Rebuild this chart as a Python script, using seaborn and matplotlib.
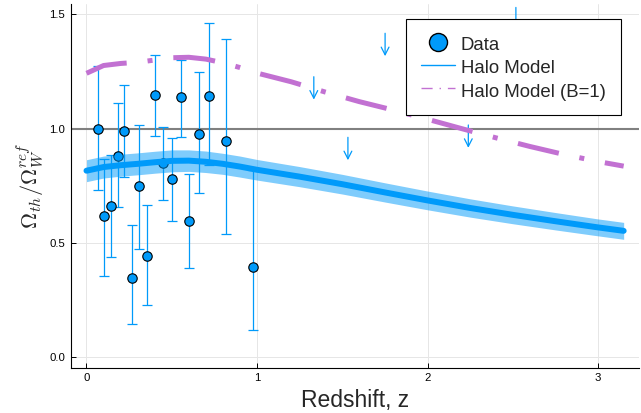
import numpy as np
import pandas as pd
import matplotlib
matplotlib.use("Agg")
import matplotlib.pyplot as plt
import seaborn as sns
from matplotlib.lines import Line2D
from matplotlib.patches import FancyArrowPatch

# ---- data ----
z_data = [0.069, 0.104, 0.142, 0.183, 0.221, 0.265, 0.308, 0.354, 0.401,
          0.448, 0.499, 0.552, 0.602, 0.661, 0.718, 0.821, 0.974]
y_data = [1.000, 0.616, 0.661, 0.879, 0.990, 0.346, 0.747, 0.441, 1.148,
          0.849, 0.780, 1.137, 0.595, 0.976, 1.144, 0.945, 0.397]
y_hi = [1.274, 0.865, 0.886, 1.110, 1.190, 0.579, 1.016, 0.664, 1.323,
        1.008, 0.960, 1.300, 0.800, 1.249, 1.461, 1.391, 0.820]
y_lo = [0.731, 0.355, 0.437, 0.659, 0.787, 0.144, 0.472, 0.227, 0.966,
        0.686, 0.598, 0.965, 0.392, 0.719, 0.840, 0.540, 0.119]

# upper limits (arrows)
ul_z = [1.333, 1.533, 1.751, 2.239, 2.518]
ul_y = [1.227, 0.962, 1.417, 1.016, 1.530]

# halo model with ribbon
model_z = [0.0, 0.1, 0.2, 0.3, 0.4, 0.5, 0.6, 0.7, 0.8, 0.9, 1.0, 1.25, 1.5,
           1.75, 2.0, 2.25, 2.5, 2.75, 3.0, 3.15]
model_y = [0.816, 0.832, 0.840, 0.846, 0.853, 0.859, 0.860, 0.855, 0.846,
           0.834, 0.820, 0.790, 0.757, 0.721, 0.686, 0.653, 0.623, 0.595,
           0.568, 0.553]
model_err = [0.048, 0.048, 0.048, 0.048, 0.048, 0.048, 0.047, 0.047, 0.046,
             0.046, 0.045, 0.044, 0.043, 0.042, 0.041, 0.040, 0.039, 0.038,
             0.037, 0.037]

# halo model, B=1
b1_z = [0.0, 0.1, 0.2, 0.3, 0.4, 0.5, 0.6, 0.7, 0.8, 0.9, 1.0, 1.2, 1.4,
        1.6, 1.8, 2.0, 2.2, 2.4, 2.6, 2.8, 3.0, 3.15]
b1_y = [1.242, 1.276, 1.285, 1.290, 1.300, 1.310, 1.312, 1.304, 1.288,
        1.267, 1.243, 1.205, 1.160, 1.118, 1.081, 1.041, 1.000, 0.960,
        0.922, 0.887, 0.856, 0.836]

x_ticks = [0, 1, 2, 3]
y_ticks = [0.0, 0.5, 1.0, 1.5]
y_tick_labels = ["0.0", "0.5", "1.0", "1.5"]

BLUE = "#009AFA"
PURPLE = "#C271D2"

sns.set_theme(style="white")
plt.rcParams["font.family"] = ["Liberation Sans", "DejaVu Sans"]
plt.rcParams["mathtext.fontset"] = "cm"

fig, ax = plt.subplots(figsize=(6.41, 4.13), dpi=100)
fig.subplots_adjust(left=0.1103, right=0.9969, bottom=0.1097, top=0.9903)

# reference line
ax.axhline(1.0, color="#808080", lw=1.5, zorder=1)

# data error bars
z_arr = np.array(z_data)
y_arr = np.array(y_data)
yerr = np.vstack([y_arr - np.array(y_lo), np.array(y_hi) - y_arr])
ax.errorbar(z_arr, y_arr, yerr=yerr, fmt="none", ecolor=BLUE, elinewidth=0.9,
            capsize=3.6, capthick=0.9, zorder=2)

df = pd.DataFrame({"z": z_data, "y": y_data})
sns.scatterplot(data=df, x="z", y="y", ax=ax, s=46, color=BLUE,
                edgecolor="black", linewidth=0.8, zorder=3, legend=False)

# upper-limit arrows
for zu, yu in zip(ul_z, ul_y):
    arr = FancyArrowPatch((zu, yu), (zu, yu - 0.1),
                          arrowstyle="->,head_length=0.55,head_width=0.28",
                          mutation_scale=10, color=BLUE, lw=0.9,
                          shrinkA=0, shrinkB=0, zorder=6)
    ax.add_patch(arr)

# halo model ribbon + line
mz = np.array(model_z)
my = np.array(model_y)
me = np.array(model_err)
ax.fill_between(mz, my - me, my + me, color=BLUE, alpha=0.5, lw=0, zorder=4)
sns.lineplot(x=model_z, y=model_y, ax=ax, color=BLUE, lw=4.3, zorder=5,
             sort=False)

# B=1 model
sns.lineplot(x=b1_z, y=b1_y, ax=ax, color=PURPLE, lw=3.6, zorder=6,
             sort=False)
bl = ax.lines[-1]
bl.set_dashes((8.4, 4.2, 1.0, 4.2))
bl.set_dash_capstyle("butt")

ax.set_xlim(-0.0926, 3.24)
ax.set_ylim(-0.0455, 1.545)
ax.set_xticks(x_ticks)
ax.set_yticks(y_ticks)
ax.set_yticklabels(y_tick_labels)
ax.grid(True, color="#e6e6e6", lw=0.7)
ax.set_axisbelow(True)
for s in ["top", "right"]:
    ax.spines[s].set_visible(False)
for s in ["left", "bottom"]:
    ax.spines[s].set_color("black")
    ax.spines[s].set_linewidth(0.8)
ax.tick_params(axis="both", direction="in", length=3.6, width=0.7,
               labelsize=8.2, pad=4, colors="black", left=True, bottom=True)

ax.set_xlabel("Redshift, z", fontsize=16.5, labelpad=4.5)
ax.set_ylabel(r"$\Omega_{th}/\Omega_W^{ref}$", fontsize=16, labelpad=2)

handles = [
    Line2D([], [], marker="o", ls="none", markersize=13, markerfacecolor=BLUE,
           markeredgecolor="black", markeredgewidth=1.0),
    Line2D([], [], color=BLUE, lw=1.0),
    Line2D([], [], color=PURPLE, lw=1.0, dashes=(8, 5, 1, 5)),
]
leg = ax.legend(handles, ["Data", "Halo Model", "Halo Model (B=1)"],
                loc="upper right", bbox_to_anchor=(0.9676, 0.960),
                borderaxespad=0, fontsize=13.4, frameon=True, fancybox=False,
                framealpha=1, edgecolor="black", handlelength=1.8,
                handleheight=1.32, handletextpad=0.34, labelspacing=0.15,
                borderpad=0.8)
leg.get_frame().set_linewidth(0.8)
leg.set_zorder(10)

fig.savefig("out.png", dpi=100)
